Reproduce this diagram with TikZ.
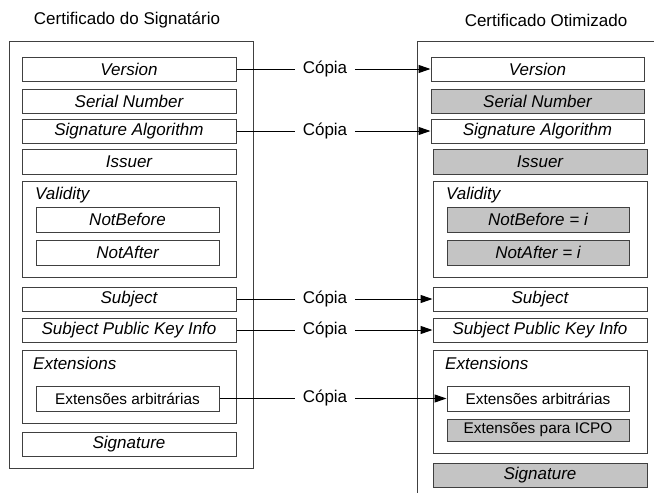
\documentclass[tikz,border=0pt]{standalone}
\usepackage{fontspec}
\setmainfont{Liberation Sans}
\usetikzlibrary{arrows.meta}
\definecolor{ln}{HTML}{404040}
\definecolor{gr}{HTML}{C4C4C4}
\tikzset{
  every node/.style={font=\fontsize{17}{20}\selectfont},
  fbox/.style={draw=ln, line width=1pt, rectangle, inner sep=0pt, font=\fontsize{17}{20}\selectfont\itshape},
  wide/.style={fbox, minimum width=214pt, minimum height=24pt},
  rwide/.style={fbox, minimum width=213pt, minimum height=24pt},
  sub/.style={fbox, minimum width=183pt, minimum height=25pt},
  grey/.style={fill=gr},
  plain/.style={font=\fontsize{15.4}{18}\selectfont},
  grp/.style={draw=ln, line width=1pt, rectangle, inner sep=0pt, minimum width=214pt},
  lbl/.style={anchor=west, inner sep=0pt, font=\fontsize{17}{20}\selectfont\itshape},
  copia/.style={inner xsep=7.5pt, inner ysep=0pt},
  conn/.style={draw=black, line width=1pt},
  arr/.style={conn, -{Triangle[length=12pt,width=8pt]}},
}
\begin{document}
\begin{tikzpicture}[x=1pt,y=-1pt]
\useasboundingbox (0,0) rectangle (654,493);
% titles
\node (t1) at (127,20) {Certificado do Signatário};
\node (t2) at (546,20) {Certificado Otimizado};
% outer frames
\node[draw=ln, line width=1pt, rectangle, inner sep=0pt, minimum width=244pt, minimum height=427pt] (lout) at (131,254.5) {};
\draw[ln, line width=1pt] (654,41) -- (417,41) -- (417,493);
% left column
\node[wide] (lver) at (129,69) {Version};
\node[wide] (lser) at (129,101) {Serial Number};
\node[wide] (lsig) at (129,131) {Signature Algorithm};
\node[wide, minimum height=25pt] (liss) at (129,161.5) {Issuer};
\node[grp, minimum height=96pt] (lval) at (129,229) {};
\node[lbl] (lvall) at (35,195) {Validity};
\node[sub] (lnb) at (127.5,219.5) {NotBefore};
\node[sub] (lna) at (127.5,252.5) {NotAfter};
\node[wide] (lsub) at (129,299) {Subject};
\node[wide] (lspk) at (129,330) {Subject Public Key Info};
\node[grp, minimum height=73pt] (lext) at (129,386.5) {};
\node[lbl] (lextl) at (33,363) {Extensions};
\node[sub, plain] (larb) at (127.5,398.5) {Extensões arbitrárias};
\node[wide] (lsgn) at (129,444) {Signature};
% right column
\node[rwide] (rver) at (537.5,69) {Version};
\node[rwide, grey] (rser) at (537.5,101) {Serial Number};
\node[rwide] (rsig) at (537.5,131) {Signature Algorithm};
\node[wide, grey, minimum height=25pt] (riss) at (540,161.5) {Issuer};
\node[grp, minimum height=96pt] (rval) at (540,229) {};
\node[lbl] (rvall) at (446,195) {Validity};
\node[sub, grey, minimum width=182pt] (rnb) at (538,219.5) {NotBefore = i};
\node[sub, grey, minimum width=182pt] (rna) at (538,252.5) {NotAfter = i};
\node[wide] (rsub) at (540,299) {Subject};
\node[wide] (rspk) at (540,330) {Subject Public Key Info};
\node[grp, minimum height=103pt] (rext) at (540,401.5) {};
\node[lbl] (rextl) at (445,363) {Extensions};
\node[sub, plain, minimum width=182pt] (rarb) at (538,398.5) {Extensões arbitrárias};
\node[sub, plain, grey, minimum width=182pt, minimum height=22pt] (ricp) at (538,430) {Extensões para ICPO};
\node[wide, grey] (rsgn) at (540,475) {Signature};
% connectors
\node[copia] (c1) at (325,69) {Cópia};
\node[copia] (c2) at (325,131) {Cópia};
\node[copia] (c3) at (325,299) {Cópia};
\node[copia] (c4) at (325,330) {Cópia};
\node[copia] (c5) at (325,398.5) {Cópia};
\draw[conn] (lver.east) -- (c1.west);
\draw[arr] (c1.east) -- (rver.west);
\draw[conn] (lsig.east) -- (c2.west);
\draw[arr] (c2.east) -- (rsig.west);
\draw[conn] (lsub.east) -- (c3.west);
\draw[arr] (c3.east) -- (rsub.west);
\draw[conn] (lspk.east) -- (c4.west);
\draw[arr] (c4.east) -- (rspk.west);
\draw[conn] (larb.east) -- (c5.west);
\draw[arr] (c5.east) -- (rarb.west);
\end{tikzpicture}
\end{document}
